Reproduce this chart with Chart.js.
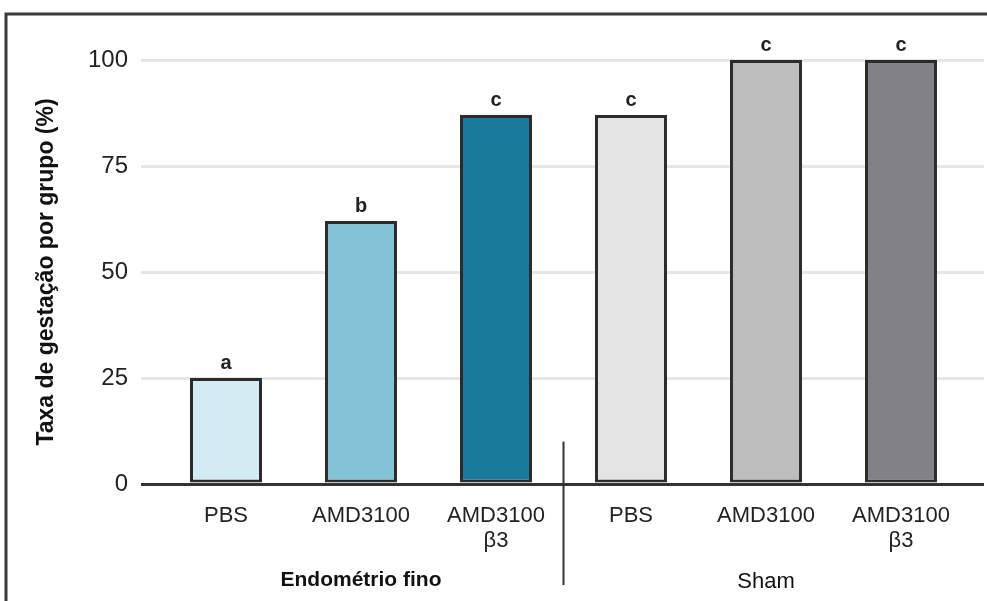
<!DOCTYPE html>
<html>
<head>
<meta charset="utf-8">
<script src="https://cdn.jsdelivr.net/npm/chart.js@4"></script>
<style>
  html, body { margin: 0; padding: 0; background: #fff; }
  #wrap { width: 987px; height: 601px; position: relative; }
</style>
</head>
<body>
<div id="wrap"><canvas id="barChart" width="987" height="601"></canvas></div>
<script>
// categorias e valores
var categories = [["PBS"], ["AMD3100"], ["AMD3100", "β3"], ["PBS"], ["AMD3100"], ["AMD3100", "β3"]];
var taxa = [25, 62, 87, 87, 100, 100];
var letras = ["a", "b", "c", "c", "c", "c"];
var grupos = ["Endométrio fino", "Sham"];
var yTicks = [0, 25, 50, 75, 100];
var cores = ["#d4ebf4", "#84c3d7", "#1a7a9c", "#e4e4e4", "#bdbdbd", "#828186"];

var fonte = "'Liberation Sans', Arial, Helvetica, sans-serif";

var extras = {
  id: "extras",
  afterDatasetsDraw: function (chart) {
    var ctx = chart.ctx;
    var meta = chart.getDatasetMeta(0);
    ctx.save();
    ctx.fillStyle = "#222";
    ctx.font = "bold 20px " + fonte;
    ctx.textAlign = "center";
    ctx.textBaseline = "alphabetic";
    meta.data.forEach(function (bar, i) {
      ctx.fillText(letras[i], bar.x, bar.y - 9);
    });
    ctx.restore();
  },
  afterDraw: function (chart) {
    var ctx = chart.ctx;
    var x = chart.scales.x;
    var y = chart.scales.y;
    var area = chart.chartArea;
    ctx.save();
    // moldura
    ctx.strokeStyle = "#3a3a3a";
    ctx.lineWidth = 3;
    ctx.beginPath();
    ctx.moveTo(6, 601);
    ctx.lineTo(6, 14);
    ctx.lineTo(987, 14);
    ctx.stroke();
    // separador dos grupos
    var sx = Math.round(x.getPixelForValue(2.5)) + 0.5;
    ctx.lineWidth = 2;
    ctx.strokeStyle = "#333";
    ctx.beginPath();
    ctx.moveTo(sx, y.getPixelForValue(10));
    ctx.lineTo(sx, area.bottom + 101);
    ctx.stroke();
    // nomes dos grupos
    ctx.fillStyle = "#111";
    ctx.textAlign = "center";
    ctx.textBaseline = "middle";
    ctx.font = "bold 21px " + fonte;
    ctx.fillText(grupos[0], x.getPixelForValue(1), area.bottom + 96);
    ctx.font = "22px " + fonte;
    ctx.fillText(grupos[1], x.getPixelForValue(4), area.bottom + 98);
    ctx.restore();
  }
};

var ctx = document.getElementById("barChart").getContext("2d");

var grafico = new Chart(ctx, {
  type: "bar",
  data: {
    datasets: [
      {
        data: taxa.map(function (v, i) { return { x: i, y: v }; }),
        backgroundColor: cores,
        borderColor: "#2b2b2b",
        borderWidth: 3,
        borderSkipped: false,
        categoryPercentage: 1,
        barPercentage: 72 / 135,
      },
    ],
  },
  options: {
    responsive: false,
    animation: false,
    layout: { padding: { top: 60, right: 3, left: 0, bottom: 0 } },
    plugins: {
      legend: { display: false },
      tooltip: { enabled: false },
    },
    scales: {
      x: {
        type: "linear",
        offset: false,
        min: -0.6296,
        max: 5.615,
        grid: { display: false, drawTicks: false, offset: false },
        border: { display: false },
        afterBuildTicks: function (axis) {
          axis.ticks = categories.map(function (c, i) { return { value: i }; });
        },
        afterFit: function (axis) { axis.height = 117; },
        ticks: {
          autoSkip: false,
          maxRotation: 0,
          padding: 19,
          color: "#222",
          font: { family: fonte, size: 22, lineHeight: 1.15 },
          callback: function (v, i) { return categories[i]; },
        },
      },
      y: {
        min: 0,
        max: 100,
        afterBuildTicks: function (axis) {
          axis.ticks = yTicks.map(function (t) { return { value: t }; });
        },
        afterFit: function (axis) { axis.width = 141; },
        grid: {
          drawTicks: false,
          lineWidth: 3,
          color: function (c) { return c.tick && c.tick.value === 0 ? "#333" : "#e6e6e6"; },
        },
        border: { display: false },
        ticks: {
          padding: 13,
          color: "#222",
          font: { family: fonte, size: 24 },
        },
        title: {
          display: true,
          text: "Taxa de gestação por grupo (%)",
          color: "#111",
          font: { family: fonte, size: 23, weight: "bold" },
          padding: { top: 33, bottom: 0 },
        },
      },
    },
  },
  plugins: [extras],
});
</script>
</body>
</html>
